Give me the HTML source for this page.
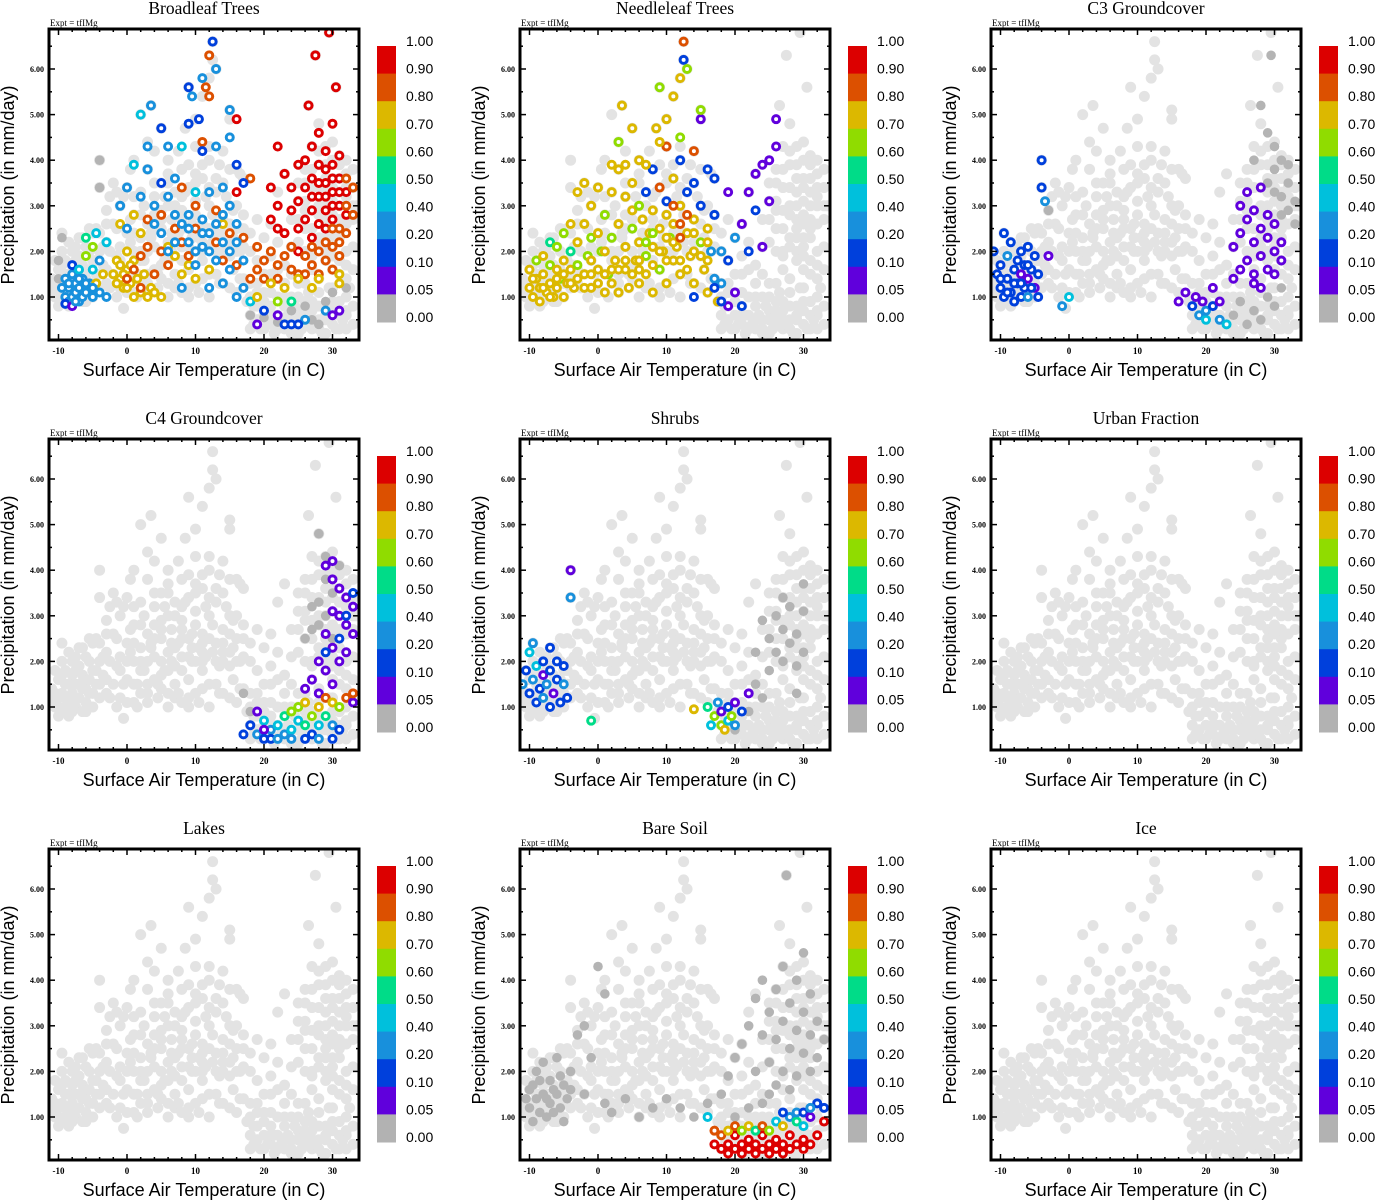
<!DOCTYPE html>
<html><head><meta charset="utf-8"><style>
html,body{margin:0;padding:0;background:#fff}
svg{display:block}
</style></head><body>
<svg id="fig" width="1377" height="1200" viewBox="0 0 1377 1200" xmlns="http://www.w3.org/2000/svg"></svg>
<script>
// ---- data ----
const panelTitles = ["Broadleaf Trees","Needleleaf Trees","C3 Groundcover","C4 Groundcover","Shrubs","Urban Fraction","Lakes","Bare Soil","Ice"];
const xTicks = [-10,0,10,20,30];
const xTickLabels = ["-10","0","10","20","30"];
const yTicks = [1,2,3,4,5,6];
const yTickLabels = ["1.00","2.00","3.00","4.00","5.00","6.00"];
const cbarLabels = ["1.00","0.90","0.80","0.70","0.60","0.50","0.40","0.20","0.10","0.05","0.00"];
const classColors = ["#b2b2b2","#6000dc","#0040dc","#1890dc","#00c0dc","#00dc88","#90dc00","#dcb800","#dc5000","#dc0000"];
const cloud = [[-11,1.4],[-10.5,1.0],[-10,1.2],[-10,1.6],[-9.5,0.9],[-9.5,1.3],[-9,1.0],[-9,1.5],[-9,1.8],[-8.5,1.1],[-8.5,2.2],[-8,0.9],[-8,1.3],[-8,1.7],[-7.5,1.0],[-7.5,1.5],[-7,1.2],[-7,1.9],[-7,2.3],[-6.5,0.9],[-6.5,1.4],[-6,1.1],[-6,1.6],[-6,2.1],[-5.5,1.3],[-5,1.0],[-5,1.8],[-5,2.4],[-4.5,1.5],[-4,1.2],[-4,2.0],[-4,3.4],[-4,4.0],[-3.5,1.7],[-3,1.3],[-3,2.2],[-3,2.9],[-10.5,1.8],[-9.5,2.4],[-8,2.0],[-6,1.4],[-4.5,2.5],[-11,1.2],[-10,0.8],[-8.5,0.8],[-5.5,2.0],
[-2,1.5],[-2,2.6],[-2,3.5],[-1.5,1.9],[-1,1.2],[-1,3.0],[-0.5,0.75],[0,1.6],[0,2.4],[0,3.4],[0.5,3.8],[1,1.1],[1,2.0],[1,2.8],[1.5,1.5],[2,1.3],[2,2.3],[2,3.3],[2,5.0],[2.5,1.8],[3,1.1],[3,2.6],[3,3.8],[3,4.4],[3.5,5.2],[4,1.6],[4,2.1],[4,3.2],[4.5,1.2],[5,2.5],[5,2.9],[5,3.5],[5,4.7],[5.5,1.8],[6,1.3],[6,2.2],[6,3.0],[6,4.0],[6.5,2.7],[7,1.5],[7,1.9],[7,3.3],[7.5,2.4],[8,1.1],[8,2.1],[8,2.9],[8,3.8],[8.5,4.7],[9,1.6],[9,2.5],[9,3.4],[9,5.6],[9.5,2.0],[10,1.3],[10,2.8],[10,3.1],[10,4.3],[10,4.9],[10.5,2.3],[11,1.8],[11,2.6],[11,3.6],[11,5.4],[11.5,2.1],[12,1.5],[12,3.0],[12,4.0],[12,5.8],[12.5,6.6],[12.5,6.2],[13,2.4],[13,3.3],[13,6.0],[13.5,1.9],[14,1.3],[14,2.7],[14,3.5],[14,4.2],[15,2.2],[15,3.0],[15,4.9],[15,5.1],[15.5,1.6],[16,1.1],[16,2.5],[16,3.8],[16.5,2.0],[17,1.4],[17,2.8],[17,3.6],
[-1,1.8],[0,2.0],[1,2.4],[2,1.8],[3,2.0],[4,2.5],[5,2.0],[6,1.8],[7,2.3],[8,2.5],[9,2.1],[10,2.0],[11,2.2],[12,2.5],[13,2.0],[14,2.2],[15,1.9],[16,2.0],[3,1.5],[5,1.4],[7,1.2],[9,1.2],[11,1.4],[13,1.5],[1,1.5],[-1,2.1],[6,3.5],[8,3.2],[10,3.7],[12,3.4],[4,2.8],[15,2.6],
[17.5,0.9],[18,0.6],[18,1.3],[18.5,0.4],[19,0.8],[19,1.8],[19.5,0.3],[20,0.6],[20,1.1],[20,2.3],[21,0.4],[21,0.8],[21,2.6],[21.5,0.2],[22,0.6],[22,1.0],[22,3.3],[23,0.3],[23,0.8],[23,1.3],[23,3.7],[24,0.5],[24,1.0],[24,2.1],[25,0.2],[25,0.7],[25,1.3],[25,3.1],[26,0.4],[26,0.9],[26,2.5],[26,3.8],[26.5,5.2],[27,0.3],[27,0.7],[27,1.6],[27,2.9],[27,4.3],[27.5,6.3],[28,0.5],[28,1.1],[28,2.3],[28,3.4],[28,4.8],[29,0.2],[29,0.8],[29,1.8],[29,2.7],[29,3.9],[29.5,6.8],[30,0.4],[30,1.2],[30,2.1],[30,3.1],[30,4.4],[30.5,5.6],[31,0.6],[31,1.5],[31,2.5],[31,3.6],[32,0.3],[32,1.0],[32,2.0],[32,3.0],[32,4.0],[33,0.8],[33,1.6],[33,2.7],[33,3.4],[33.5,3.0],
[19,0.5],[20,0.3],[21,0.6],[22,0.3],[23,0.5],[24,0.3],[25,0.5],[26,0.6],[27,0.5],[28,0.3],[29,0.5],[30,0.7],[31,0.3],[32,0.6],[28,2.8],[29,3.3],[30,2.6],[31,3.0],[30,3.6],[31,4.1],[32,3.4],[29,2.3],[27,3.4],[26,3.1],[28,3.9],[30,1.6],[32,1.4],[26,1.3],[24,1.5],[22,1.6],[21,1.9],[19,1.3],[18,2.0],[24,2.7],[25,2.2]];
const cloudExtra = [[-10.5,1.3],[-10,1.0],[-9.5,1.7],[-9,1.2],[-8.5,1.5],[-8,1.1],[-7.5,1.8],[-7,1.5],[-6.5,1.7],[-6,0.9],[-5.5,1.6],[-5,1.3],[-4.5,1.8],[-4,1.5],[-3.5,2.1],[-3,1.6],[-2.5,1.2],[-2.5,2.0],[-9.5,2.0],[-7.5,2.1],[-6.5,2.3],[-5.5,2.5],[-4,2.4],[-3,2.6],[-2.5,3.2],[-1.5,3.3],
[-1.5,1.0],[0,1.1],[1.5,1.0],[3,1.3],[4.5,1.5],[6,1.0],[7.5,1.3],[9,1.0],[10.5,1.1],[12,1.0],[13.5,1.3],[15,1.2],[16.5,1.4],
[-0.5,1.5],[0.5,2.2],[2,2.0],[3.5,2.3],[5,1.7],[6.5,2.0],[8,1.8],[9.5,2.3],[11,2.0],[12.5,2.2],[14,2.0],[15.5,2.3],[17,2.1],
[-1.5,2.5],[0.5,2.7],[2,2.8],[3.5,2.4],[5,2.7],[6.5,2.4],[8,2.7],[9.5,2.6],[11,2.4],[12.5,2.8],[14,2.4],[15.5,2.9],[17,2.5],
[-0.5,3.2],[1,3.2],[2.5,3.0],[4,3.5],[5.5,3.2],[7,3.0],[8.5,3.3],[10,3.5],[11.5,3.2],[13,3.6],[14.5,3.2],[16,3.0],[18,2.4],[19,2.7],
[1,4.0],[4,4.2],[6,3.7],[7.5,4.2],[9,3.9],[11,3.9],[12,4.3],[13.5,3.9],[15,3.8],[16.5,3.7],
[18,0.3],[18.5,0.8],[19,0.5],[20,0.9],[20.5,0.4],[21,1.1],[21.5,0.6],[22.5,0.4],[23,1.0],[23.5,0.6],[24,0.2],[24.5,0.8],[25,1.0],[25.5,0.3],[26,0.7],[26.5,1.1],[27,0.9],[27.5,0.4],[28,0.8],[28.5,0.2],[29,0.6],[29.5,1.2],[30,0.9],[30.5,0.3],[31,0.9],[31.5,0.5],[32,0.7],[32.5,1.2],[33,0.4],[22,2.2],[23,1.7],[21,1.5],[20,1.5],[19,1.1],[18,1.0],
[25,2.7],[25,3.5],[26,2.0],[26,2.9],[26,3.5],[27,2.5],[27,3.8],[27,2.0],[28,2.1],[28,3.0],[28,4.2],[29,2.0],[29,2.5],[29,3.0],[29,3.6],[29,4.3],[30,1.9],[30,2.3],[30,2.8],[30,3.4],[30,4.0],[31,1.8],[31,2.3],[31,2.7],[31,3.3],[31,3.9],[32,1.7],[32,2.6],[32,3.2],[32,3.7],[33,2.1],[33,3.0],[33,3.8],[28,1.4],[27,1.9]];
const broadleaf = [[-9,1.0,3],[-9,1.4,3],[-8.5,0.9,3],[-8.5,1.2,3],[-8,1.0,3],[-8,1.5,3],[-8,1.7,2],[-7.5,1.1,3],[-7.5,1.3,3],[-7,0.9,3],[-7,1.2,3],[-7,1.6,4],[-6.5,1.0,3],[-6.5,1.4,3],[-6,1.1,3],[-6,1.9,6],[-6,2.3,5],[-5.5,1.3,3],[-5,1.0,3],[-5,1.6,4],[-5,2.1,6],[-4.5,1.3,7],[-4.5,2.4,4],[-4,1.1,3],[-4,1.8,3],[-3.5,1.5,7],[-3,2.2,4],[-3,1.0,3],[-9,0.85,2],[-8,0.8,1],[-8.5,1.3,3],[-7,1.4,3],[-6,1.3,3],[-5,1.2,3],[-9.5,1.2,3],[-7.5,0.9,3],
[-2,1.5,7],[-1.5,1.8,7],[-1,1.4,7],[-1,1.7,7],[-0.5,1.2,7],[0,1.6,7],[0,2.0,7],[0.5,1.3,7],[1,1.8,7],[1,1.0,7],[2,1.1,7],[2.5,1.5,7],[3,1.0,7],[3.5,1.2,7],[4,1.1,7],[5,1.0,7],[8,1.5,7],[9,1.7,7],[10,1.4,7],[12,1.6,7],[14,2.6,7],[7,1.9,7],[-1,2.6,7],[1,2.8,7],[2,2.4,7],[6,2.1,7],[-0.5,1.5,7],[0.5,1.7,7],[-1.5,1.3,7],[0,1.2,7],[1.5,1.4,7],
[0,1.4,8],[1,1.6,8],[2,1.9,8],[2,1.2,8],[3,2.1,8],[3,2.7,8],[4,1.5,8],[5,2.0,8],[5,2.8,8],[6,1.7,8],[7,2.5,8],[8,3.4,8],[8,2.2,8],[9,1.9,8],[10,3.0,8],[10,2.5,8],[11,4.4,8],[11.5,5.6,8],[12,6.3,8],[12,5.4,8],[13,2.9,8],[13,2.2,8],[14,1.8,8],[15,2.4,8],[16,1.7,8],[17,2.3,8],[18,1.4,8],[19,1.6,8],[19,2.1,8],[18,3.6,8],
[-1,3.0,3],[0,2.5,3],[0,3.4,3],[1,3.9,4],[2,3.2,3],[2,5.0,4],[3,3.8,3],[3,4.3,3],[3.5,5.2,3],[4,2.6,3],[4,3.0,3],[5,2.4,3],[5,3.5,2],[5,4.7,2],[6,3.2,3],[6,4.3,3],[6,2.0,3],[7,3.6,3],[7,2.8,3],[8,4.3,4],[8,2.6,3],[9,2.2,3],[9,5.6,2],[9,4.8,2],[9.5,5.4,3],[10,3.3,4],[10,2.0,3],[10.5,4.9,2],[11,5.8,3],[11,4.2,2],[11,2.7,3],[12,3.3,3],[12,2.4,3],[12.5,6.6,2],[13,6.0,3],[13,4.3,3],[13,1.8,3],[14,3.4,3],[14,2.2,3],[15,5.1,3],[15,4.5,3],[15,3.0,3],[15,1.6,3],[16,3.9,2],[16,2.2,3],[17,1.8,3],[17,1.2,3],[16,1.0,3],[12,1.2,3],[8,1.2,3],[18,0.9,4],[17,3.5,2],[14,1.3,3],[11,2.1,3],[9,2.8,3],[13,2.6,3],[10,1.7,3],[7,2.2,3],[9,2.5,3],[11,2.4,3],[12,2.0,3],[14,2.8,3],[15,2.0,3],[16,2.6,3],
[21,3.4,9],[21,2.7,9],[22,3.0,9],[22,4.3,9],[22,2.5,9],[23,3.7,9],[23,2.4,9],[24,3.4,9],[24,2.9,9],[25,2.5,9],[25,3.1,9],[25,3.9,9],[26,2.7,9],[26,3.4,9],[26,4.0,9],[26.5,5.2,9],[27,2.9,9],[27,3.6,9],[27,4.3,9],[27.5,6.3,9],[28,2.6,9],[28,3.2,9],[28,3.9,9],[28,4.6,9],[29,2.9,9],[29,3.5,9],[29,4.2,9],[29.5,6.8,9],[30,2.7,9],[30,3.3,9],[30,3.9,9],[30,4.8,9],[30.5,5.6,9],[31,3.0,9],[31,3.6,9],[31,4.1,9],[32,2.8,9],[32,3.3,9],[29,2.5,9],[27,2.3,9],[25,2.0,9],[16,4.9,9],[16,3.3,9],[29,3.2,9],[30,3.0,9],[28,3.5,9],[29,3.8,9],[30,3.6,9],[31,3.3,9],[27,3.2,9],
[20,1.8,8],[20,1.4,8],[21,2.0,8],[22,1.7,8],[22,1.4,8],[23,1.9,8],[24,1.6,8],[24,2.1,8],[25,1.5,8],[26,1.9,8],[26,1.5,8],[27,2.1,8],[27,1.7,8],[28,1.5,8],[28,2.0,8],[29,1.8,8],[29,2.2,8],[30,1.6,8],[30,2.1,8],[31,2.5,8],[31,1.9,8],[32,2.4,8],[32,3.0,8],[33,2.8,8],[33,3.4,8],[32,3.6,8],[31,2.2,8],[30,2.5,8],
[19,1.0,7],[21,1.3,7],[22,0.9,6],[23,1.2,7],[24,0.9,5],[25,1.4,7],[27,1.2,7],[28,1.4,7],[31,1.5,7],[31,1.3,7],[29,0.7,3],[30,0.6,1],[31,0.7,1],[26,0.5,3],[24,0.4,2],[22,0.6,1],[20,0.7,2],[23,0.4,2],[19,0.4,1],[25,0.4,2],[20,0.55,0],[22,0.45,0],[24,0.7,0],[26,0.8,0],[27,0.5,0],[28,0.4,0],[29,0.9,0],[30,1.1,0],[32,1.2,0],[18,0.6,0],[-4,3.4,0],[-4,4.0,0],[-10,1.8,0],[-10,1.4,0],[-9.5,2.3,0]];
const needleleaf = [[-10,1.2,7],[-10,1.6,7],[-9.5,1.0,7],[-9,1.4,7],[-9,1.8,6],[-8.5,0.9,7],[-8.5,1.2,7],[-8,1.5,7],[-8,1.9,7],[-7.5,1.1,7],[-7,1.3,7],[-7,1.7,6],[-7,2.2,5],[-6.5,1.0,7],[-6,1.2,7],[-6,1.6,7],[-6,2.1,6],[-5.5,1.4,6],[-5,1.0,7],[-5,1.8,7],[-5,2.4,6],[-4.5,1.3,7],[-4,1.6,7],[-4,2.0,5],[-3.5,1.2,7],[-3,1.7,6],[-3,2.2,7],[-2,1.5,7],[-2,2.6,7],[-2,3.5,7],[-1.5,1.9,6],[-1,1.2,7],[-1,3.0,7],[-1,2.3,6],[0,1.6,7],[0,2.4,7],[0,3.4,7],[0.5,2.0,6],[1,1.1,7],[1,2.0,7],[1,2.8,6],[1.5,1.5,6],[2,1.3,7],[2,2.3,6],[2,3.3,7],[2.5,1.8,7],[3,1.1,7],[3,2.6,7],[3,3.8,7],[3,4.4,6],[3.5,5.2,7],[4,1.6,7],[4,2.1,7],[4,3.2,7],[4.5,1.2,7],[5,2.5,6],[5,2.9,7],[5,3.5,7],[5,4.7,7],[5.5,1.8,7],[6,1.3,7],[6,2.2,7],[6,3.0,6],[6,4.0,7],[6.5,2.7,7],[7,1.5,7],[7,1.9,6],[7,3.3,2],[7.5,2.4,7],[8,1.1,7],[8,2.1,7],[8,2.9,7],[8,3.8,2],[8.5,4.7,7],[9,1.6,6],[9,2.5,7],[9,3.4,8],[9,5.6,6],[9.5,2.0,7],[10,1.3,7],[10,2.8,7],[10,3.1,2],[10,4.3,8],[10,4.9,7],[10.5,2.3,6],[11,1.8,7],[11,2.6,7],[11,3.6,7],[11,5.4,7],[11.5,2.1,7],[12,1.5,7],[12,3.0,7],[12,4.0,2],[12,5.8,7],[12.5,6.6,8],[12.5,6.2,2],[13,2.4,7],[13,3.3,2],[13,6.0,6],[13.5,1.9,7],[14,1.3,7],[14,2.7,7],[14,3.5,2],[14,4.2,8],[15,2.2,6],[15,3.0,2],[15,4.9,1],[15,5.1,6],[15.5,1.6,7],[16,1.1,7],[16,2.5,7],[16,3.8,2],[16.5,2.0,3],[17,1.4,3],[17,2.8,2],[17,3.6,2],[17.5,0.9,7],[18,1.3,3],[18,2.0,3],[19,1.8,2],[19,3.3,1],[20,2.3,3],[20,1.1,1],[21,2.6,1],[21,0.8,2],[22,3.3,1],[22,2.0,2],[23,3.7,1],[23,2.9,2],[24,3.9,1],[24,2.1,1],[25,3.1,1],[25,4.0,1],[26,4.3,1],[26,4.9,1],[19,0.8,1],[18,0.9,2],[12,4.5,6],[9,4.4,7],[7,3.9,7],[4,3.9,7],[2,3.9,7],[-4,2.6,7],[-3,3.3,7],[14,1.0,2],[17,1.2,2],[3,1.6,7],[5,1.5,7],[7,2.2,6],[9,2.0,7],[11,2.2,7],[13,1.6,7],[15,1.9,7],[1,1.5,7],[-1,1.8,7],[12,2.6,8],[6,1.8,7],
[-9.5,1.4,7],[-8,1.2,7],[-7,1.0,7],[-6,1.4,7],[-5,1.5,7],[-4,1.3,7],[-3,1.4,7],[-2,1.2,7],[-1,1.5,7],[0,1.3,7],[2,1.6,7],[4,1.8,7],[6,1.6,7],[8,1.7,7],[10,1.8,7],[12,1.8,7],[14,2.0,7],[16,1.8,7],[8,2.4,6],[10,2.3,7],[12,2.3,8],[14,2.4,7],[16,2.2,7],[13,2.8,8],[11,3.0,8]];
const c3 = [[-11,2.0,2],[-10.5,1.5,2],[-10,1.2,2],[-10,1.7,2],[-9.5,2.4,2],[-9.5,1.0,2],[-9,1.4,2],[-9,1.9,3],[-8.5,1.1,2],[-8.5,2.2,2],[-8,1.6,2],[-8,0.9,2],[-7.5,1.3,2],[-7.5,1.8,2],[-7,1.0,2],[-7,2.0,2],[-7,1.5,1],[-6.5,1.2,2],[-6.5,1.7,2],[-6,1.4,1],[-6,1.0,3],[-6,2.1,2],[-5.5,1.6,2],[-5,1.2,1],[-5,1.9,2],[-4.5,1.5,2],[-4,4.0,2],[-4,3.4,2],[-3.5,3.1,3],[-3,2.9,0],[-3,1.9,1],[-4.5,1.0,2],[-1,0.8,3],[0,1.0,4],[16,0.9,1],[17,1.1,1],[18,0.8,2],[18.5,1.0,1],[19,0.6,3],[19.5,0.9,1],[20,0.5,4],[20,0.7,3],[21,0.8,2],[21,1.2,1],[22,0.5,3],[22,0.9,1],[23,0.4,4],[24,1.4,1],[24,2.1,1],[25,1.6,1],[25,2.4,1],[25,3.0,1],[26,1.8,1],[26,2.7,1],[26,3.3,1],[27,1.5,1],[27,2.2,1],[27,2.9,1],[28,1.9,1],[28,2.5,1],[28,3.4,1],[29,1.6,1],[29,2.3,1],[29,2.8,1],[30,2.0,1],[30,1.5,1],[30,2.6,1],[31,2.2,1],[31,1.8,1],[28,1.2,1],[27,1.3,1],[-9,1.1,2],[-8,1.3,2],[-7,1.3,2],[-10,1.4,2],[-6,1.7,2],[-5.5,1.2,2],
[24,0.6,0],[25,0.9,0],[26,0.4,0],[27,0.7,0],[28,0.5,0],[29,1.0,0],[30,0.8,0],[31,1.2,0],[29,3.5,0],[30,3.8,0],[30,4.3,0],[31,3.2,0],[31,4.0,0],[32,3.5,0],[32,2.9,0],[33,3.1,0],[30,3.3,0],[29,4.6,0],[28,5.2,0],[29.5,6.3,0],[32,3.9,0],[31,2.8,0],[27,4.0,0],[33,2.6,0]];
const c4 = [[28,2.8,0],[28,3.3,0],[29,3.0,0],[29,3.8,0],[30,3.5,0],[30,2.5,0],[27,2.7,0],[27,3.2,0],[26,2.5,0],[29,4.3,0],[31,4.1,0],[28,4.8,0],[30,4.2,1],[29,4.1,1],[30,3.8,1],[31,3.6,1],[32,3.4,1],[33,3.2,1],[31,3.0,1],[32,2.8,1],[30,3.1,1],[29,2.6,1],[30,2.3,1],[31,2.0,1],[28,2.0,1],[29,1.8,1],[27,1.6,1],[28,1.3,1],[26,1.4,1],[30,1.5,1],[32,2.2,1],[33,2.6,1],[31,2.5,2],[32,3.0,2],[33,3.5,2],[29,2.2,2],[18,0.6,2],[19,0.4,3],[20,0.7,4],[21,0.5,3],[21,0.3,2],[22,0.6,4],[23,0.8,5],[23,0.4,3],[24,0.5,4],[24,0.9,6],[25,0.7,4],[25,1.0,6],[26,0.6,5],[26,1.1,7],[27,0.8,6],[27,0.4,2],[28,1.0,7],[28,0.6,4],[29,1.2,8],[29,0.8,5],[30,1.1,7],[30,0.6,3],[31,1.0,6],[31,0.5,2],[32,1.2,8],[33,1.1,1],[19,0.9,1],[20,0.5,1],[22,0.3,3],[17,0.4,2],[18,0.9,0],[17,1.3,0],[33,1.3,8],[24,0.3,3],[26,0.3,2],[28,0.3,3],[30,0.3,2],[20,0.3,2]];
const shrubs = [[-11,1.5,3],[-10.5,1.8,2],[-10,1.3,2],[-10,2.2,4],[-9.5,1.6,3],[-9.5,2.4,3],[-9,1.1,2],[-9,1.9,4],[-8.5,1.4,2],[-8,1.2,3],[-8,1.7,1],[-8,2.0,2],[-7.5,1.5,3],[-7,1.0,2],[-7,1.8,2],[-7,2.3,2],[-6.5,1.3,1],[-6,1.6,2],[-6,2.0,2],[-5.5,1.1,2],[-5,1.5,3],[-5,1.9,2],[-4.5,1.2,2],[-4,4.0,1],[-4,3.4,3],[-1,0.7,5],[14,0.95,7],[16,1.0,5],[16.5,0.6,4],[17,0.8,6],[17.5,1.1,3],[18,0.6,6],[18,0.9,1],[18.5,0.5,7],[19,1.0,2],[19,0.7,4],[19.5,0.8,6],[20,0.6,3],[20,1.1,1],[21,0.9,2],[22,1.3,1],[20,0.5,0],[22,0.9,0],[23,1.5,0],[24,1.2,0],[25,1.8,0],[25,2.5,0],[26,2.2,0],[26,3.0,0],[27,2.0,0],[27,2.7,0],[28,2.4,0],[28,3.2,0],[29,1.9,0],[29,2.6,0],[30,2.2,0],[30,3.1,0],[30,3.7,0],[27,3.4,0],[24,2.9,0],[23,2.2,0],[29,1.3,0]];
const bareSoil = [[-10,1.2,0],[-10,1.6,0],[-9.5,0.9,0],[-9,1.4,0],[-9,2.0,0],[-8.5,1.1,0],[-8,1.5,0],[-8,2.2,0],[-7.5,1.0,0],[-7,1.3,0],[-7,1.8,0],[-6.5,1.1,0],[-6,1.5,0],[-6,2.3,0],[-5.5,1.2,0],[-5,1.7,0],[-5,0.9,0],[-4.5,1.4,0],[-4,2.0,0],[-3,2.8,0],[-2,3.0,0],[-1,2.3,0],[0,4.3,0],[1,3.7,0],[-2,1.5,0],[1,1.3,0],[2,1.1,0],[4,1.4,0],[6,1.0,0],[8,1.2,0],[10,1.4,0],[12,1.2,0],[14,1.0,0],[16,1.3,0],[18,1.5,0],[19,1.9,0],[20,2.3,0],[21,2.6,0],[22,3.0,0],[22,1.2,0],[23,3.6,0],[23,2.0,0],[24,2.8,0],[24,4.0,0],[25,2.2,0],[25,3.3,0],[25,1.5,0],[26,2.7,0],[26,3.8,0],[27,2.0,0],[27,3.1,0],[27,4.3,0],[27.5,6.3,0],[28,2.5,0],[28,3.5,0],[28,1.6,0],[29,2.9,0],[29,4.0,0],[29,1.9,0],[30,2.4,0],[30,3.3,0],[30,4.6,0],[31,2.8,0],[31,3.7,0],[31,2.0,0],[32,3.1,0],[32,2.3,0],[33,2.7,0],[26,1.7,0],[24,1.3,0],[20,1.0,0],[-9.5,1.7,0],[-8.5,1.8,0],[-7.5,1.4,0],[-6.5,1.6,0],[-5.5,1.9,0],[-4,1.6,0],[-10.5,1.4,0],
[17,0.4,9],[18,0.3,9],[18,0.6,8],[19,0.4,9],[19,0.2,9],[20,0.3,9],[20,0.6,9],[21,0.4,9],[21,0.2,9],[22,0.3,9],[22,0.5,9],[23,0.2,9],[23,0.4,9],[24,0.3,9],[24,0.6,9],[25,0.2,9],[25,0.4,9],[26,0.3,9],[26,0.5,9],[27,0.2,9],[27,0.4,9],[28,0.3,9],[28,0.6,9],[29,0.4,9],[30,0.3,9],[30,0.5,9],[31,0.4,9],[32,0.6,9],[33,0.9,9],[33,1.2,2],[17,0.7,8],[19,0.7,7],[20,0.8,8],[21,0.7,6],[22,0.8,7],[23,0.7,5],[24,0.8,8],[25,0.7,6],[26,0.9,4],[27,0.8,7],[28,1.0,3],[29,0.9,5],[29,1.1,3],[30,0.8,4],[30,1.1,2],[31,1.0,1],[32,1.3,2],[31,1.2,3],[16,1.0,4],[27,1.1,2]];
const panelSeries = [broadleaf, needleleaf, c3, c4, shrubs, [], [], bareSoil, []];

// ---- drawing ----
const NS = "http://www.w3.org/2000/svg";
const svg = document.getElementById("fig");
function mk(tag, attrs, parent){const e=document.createElementNS(NS,tag);for(const k in attrs)e.setAttribute(k,attrs[k]);parent.appendChild(e);return e;}
const X0=49,X1=359,Y0=29,Y1=340;
function xs(t){return 127+6.85*t;}
function ys(p){return 342.6-45.6*p;}
function slug(s){return s.toLowerCase().replace(/[^a-z0-9]+/g,'-');}
const allCloud = cloud.concat(cloudExtra);

panelTitles.forEach((title,i)=>{
  const ox=(i%3)*471, oy=Math.floor(i/3)*410;
  const g=mk("g",{transform:`translate(${ox},${oy})`},svg);
  
  
  const cid="clip"+i;
  const cp=mk("clipPath",{id:cid},g); mk("rect",{x:X0,y:Y0,width:X1-X0,height:Y1-Y0},cp);

  const t=mk("text",{x:204,y:14,"text-anchor":"middle","font-family":"Liberation Serif, serif","font-size":17.5},g);
  t.textContent=title;
  
  
  const ex=mk("text",{x:50,y:26,"font-family":"Liberation Serif, serif","font-size":9},g);
  ex.textContent="Expt = tfIMg";
  
  

  const pts=mk("g",{"clip-path":`url(#${cid})`},g);
  
  
  allCloud.forEach(d=>{
    const c=mk("circle",{cx:xs(d[0]),cy:ys(d[1]),r:5.5,fill:"#e3e3e3"},pts);
    
    
  });
  const series=panelSeries[i];
  series.filter(d=>d[2]===0).forEach(d=>{
    const c=mk("circle",{cx:xs(d[0]),cy:ys(d[1]),r:4.8,fill:"#b4b4b4"},pts);
    
    
  });
  series.filter(d=>d[2]>0).forEach(d=>{
    const c=mk("circle",{cx:xs(d[0]),cy:ys(d[1]),r:3.5,fill:"#fff",stroke:classColors[d[2]],"stroke-width":3},pts);
    
    
  });

  const box=mk("rect",{x:X0,y:Y0,width:X1-X0,height:Y1-Y0,fill:"none",stroke:"#000","stroke-width":3},g);
  
  
  const ax=mk("g",{stroke:"#000","stroke-width":1.5},g);
  
  
  for(let v=-10;v<=32;v+=2){const x=xs(v),L=(v%10===0)?6:3;
    mk("line",{x1:x,y1:Y1,x2:x,y2:Y1-L},ax);mk("line",{x1:x,y1:Y0,x2:x,y2:Y0+L},ax);}
  for(let v=0.5;v<=6.5;v+=0.5){const y=ys(v),L=(v%1===0)?6:3;
    mk("line",{x1:X0,y1:y,x2:X0+L,y2:y},ax);mk("line",{x1:X1,y1:y,x2:X1-L,y2:y},ax);}
  xTicks.forEach((v,k)=>{
    const e=mk("text",{x:xs(v),y:354,"text-anchor":"middle","font-family":"Liberation Serif, serif","font-size":9,"font-weight":"bold"},g);
    e.textContent=xTickLabels[k];
    
    
  });
  yTicks.forEach((v,k)=>{
    const e=mk("text",{x:44,y:ys(v)+3,"text-anchor":"end","font-family":"Liberation Serif, serif","font-size":8,"font-weight":"bold"},g);
    e.textContent=yTickLabels[k];
    
    
  });
  const xl=mk("text",{x:204,y:376,"text-anchor":"middle","font-family":"Liberation Sans, sans-serif","font-size":18},g);
  xl.textContent="Surface Air Temperature (in C)";
  
  
  const yl=mk("text",{x:0,y:0,transform:"translate(14,185) rotate(-90)","text-anchor":"middle","font-family":"Liberation Sans, sans-serif","font-size":18},g);
  yl.textContent="Precipitation (in mm/day)";
  
  

  const cb=mk("g",{},g);
  
  
  const segH=27.6;
  for(let s=0;s<10;s++){
    const r=mk("rect",{x:377,y:46+s*segH,width:19,height:segH+0.5,fill:classColors[9-s]},cb);
    
    
  }
  cbarLabels.forEach((lab,k)=>{
    const e=mk("text",{x:406,y:46+k*segH,"font-family":"Liberation Sans, sans-serif","font-size":14},cb);
    e.textContent=lab;
    
    
  });
});
</script>
</body></html>
